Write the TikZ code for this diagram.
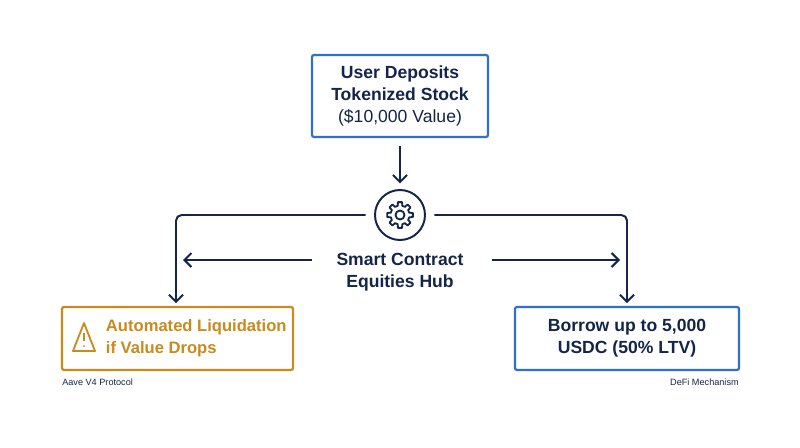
\documentclass[tikz,border=0pt]{standalone}
\usepackage{fontspec}
\setmainfont{Liberation Sans}
\usetikzlibrary{arrows.meta,positioning}
\definecolor{navy}{HTML}{14254A}
\definecolor{boxblue}{HTML}{2F6FD3}
\definecolor{amber}{HTML}{C98A1E}
\tikzset{
  box/.style={draw=boxblue, line width=1.6pt, rounded corners=1.5pt, fill=white, align=center, text=navy, font=\fontsize{12.5}{15.5}\selectfont\bfseries},
  flow/.style={draw=navy, line width=1.4pt, -{Straight Barb[length=5pt,width=10pt]}},
  note/.style={text=navy, font=\fontsize{6.5}{8}\selectfont}
}
\begin{document}
\begin{tikzpicture}[x=0.025cm,y=-0.025cm]
		\useasboundingbox (0,0) rectangle (800,447);
		\node[box, minimum width=176*0.025cm, minimum height=82*0.025cm] (deposit) at (400,96) {User Deposits\\Tokenized Stock\\{\mdseries(\$10,000 Value)}};
		\node[draw=navy, line width=1.4pt, circle, minimum size=50*0.025cm] (hub) at (400,215) {};
		\node[text=navy, align=center, font=\fontsize{12.5}{15.5}\selectfont\bfseries] (hubtext) at (400,272) {Smart Contract\\Equities Hub};
		\node[box, draw=amber, text=amber, minimum width=231*0.025cm, minimum height=63*0.025cm] (liquid) at (177.5,338.5) {};
		\node[text=amber, align=left, anchor=west, font=\fontsize{11.8}{15.5}\selectfont\bfseries] (liqtext) at (101,338) {Automated Liquidation\\if Value Drops};
		\node[box, minimum width=224*0.025cm, minimum height=63*0.025cm] (borrow) at (627,338.5) {Borrow up to 5,000\\USDC (50\% LTV)};
		\node[note, anchor=north west, inner sep=0pt] (aave) at (62,379) {Aave V4 Protocol};
		\node[note, anchor=north east, inner sep=0pt] (defi) at (739,379) {DeFi Mechanism};
		% gear
		\draw[navy, line width=1.3pt, line join=round, shift={(hub.center)}]
		  (-14:9.5) \foreach \a in {0,45,...,315} { -- (\a-14:9.5) -- (\a-9:13) -- (\a+9:13) -- (\a+14:9.5) } -- cycle;
		\draw[navy, line width=1.3pt] (hub.center) circle (4.5);
		% warning sign
		\draw[amber, line width=1.3pt, line join=round] (84,323) -- (95,351) -- (73,351) -- cycle;
		\draw[amber, line width=1.4pt] (84,333) -- (84,341);
		\fill[amber] (84,346) circle (1);
		% connectors
		\coordinate (lc) at (176,215);
		\coordinate (rc) at (627,215);
		\coordinate (la) at (183,260);
		\coordinate (ra) at (620,260);
		\coordinate (ls) at (312,260);
		\coordinate (rs) at (492,260);
		\draw[flow] ([yshift=-5.5pt]deposit.south) -- ([yshift=4pt]hub.north);
		\draw[flow, rounded corners=4pt] ([xshift=-6pt]hub.west) -- (lc) -- ([yshift=2pt]liquid.north -| lc);
		\draw[flow, rounded corners=4pt] ([xshift=6pt]hub.east) -- (rc) -- ([yshift=2pt]borrow.north -| rc);
		\draw[flow] (ls) -- (la);
		\draw[flow] (rs) -- (ra);
\end{tikzpicture}
\end{document}
